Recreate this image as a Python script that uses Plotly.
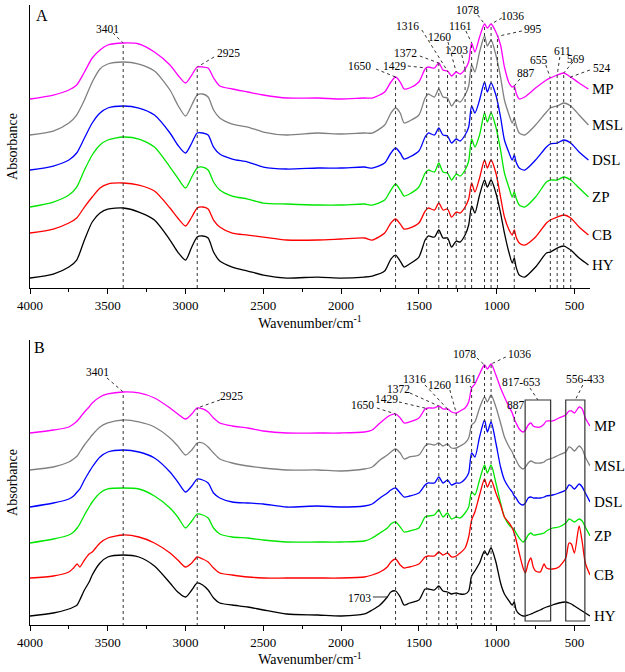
import numpy as np
import plotly.graph_objects as go

SERIF = "Liberation Serif, Times New Roman, serif"

SAMPLES = ["MP", "MSL", "DSL", "ZP", "CB", "HY"]
COLORS = {"MP": "#ff00ff", "MSL": "#808080", "DSL": "#0000ff",
          "ZP": "#00e600", "CB": "#ff0000", "HY": "#000000"}
X_RANGE = [4000, 400]

# ---- panel A: wavenumbers and offset absorbance (a.u.)
WN_A = [4000, 3850, 3750, 3700, 3650, 3600, 3550, 3500, 3401, 3300,
        3200, 3100, 3050, 3000, 2960, 2925, 2890, 2855, 2820, 2780,
        2700, 2600, 2500, 2350, 2150, 2000, 1850, 1800, 1720, 1680,
        1650, 1620, 1595, 1560, 1500, 1460, 1440, 1400, 1372, 1345,
        1316, 1290, 1260, 1235, 1203, 1180, 1161, 1140, 1110, 1078,
        1060, 1036, 1005, 975, 950, 920, 900, 887, 875, 855,
        820, 750, 680, 655, 611, 569, 524, 470, 410]

MP_A = [189, 193, 198, 203, 216, 230, 238, 243, 245, 244,
        236, 223, 213, 205, 213, 221, 221, 220, 210, 202,
        199, 196, 193, 190, 190, 189, 190, 190, 196, 206,
        211, 206, 199, 200, 206, 219, 221, 220, 225, 218,
        217, 212, 216, 214, 219, 226, 245, 236, 251, 264,
        260, 264, 256, 243, 221, 205, 201, 202, 195, 189,
        191, 200, 208, 210, 213, 215, 211, 205, 199]
MSL_A = [153, 157, 165, 173, 188, 206, 219, 224, 226, 224,
         217, 198, 183, 172, 183, 193, 194, 191, 178, 170,
         164, 161, 156, 153, 155, 154, 155, 155, 163, 175,
         180, 175, 165, 167, 173, 190, 194, 191, 199, 191,
         190, 182, 188, 186, 193, 202, 223, 216, 236, 252,
         242, 248, 233, 211, 188, 173, 165, 170, 163, 155,
         153, 163, 176, 180, 182, 185, 182, 173, 163]
DSL_A = [118, 122, 128, 135, 150, 165, 175, 180, 182, 180,
         173, 155, 143, 135, 145, 155, 155, 153, 141, 134,
         129, 126, 121, 119, 120, 120, 121, 120, 125, 135,
         140, 135, 129, 131, 137, 151, 155, 153, 160, 153,
         152, 145, 149, 147, 153, 161, 182, 175, 188, 206,
         196, 205, 193, 171, 148, 135, 128, 133, 126, 120,
         118, 128, 141, 144, 145, 148, 145, 136, 128]
ZP_A = [81, 86, 93, 101, 118, 133, 143, 148, 151, 149,
        141, 121, 110, 100, 111, 120, 121, 118, 106, 98,
        92, 89, 85, 84, 83, 83, 84, 83, 88, 98,
        104, 98, 92, 94, 101, 115, 118, 116, 125, 116,
        115, 108, 114, 112, 118, 127, 149, 141, 153, 175,
        166, 175, 161, 138, 115, 100, 91, 96, 90, 83,
        81, 91, 106, 108, 108, 111, 108, 100, 91]
CB_A = [55, 59, 65, 70, 81, 91, 100, 104, 105, 103,
        97, 80, 70, 62, 71, 80, 81, 79, 68, 61,
        55, 53, 51, 48, 48, 49, 50, 48, 55, 65,
        69, 64, 59, 60, 65, 77, 80, 78, 85, 78,
        79, 71, 76, 75, 81, 89, 105, 96, 110, 128,
        120, 128, 115, 91, 71, 58, 53, 58, 51, 45,
        43, 51, 65, 68, 71, 73, 70, 61, 53]
HY_A = [10, 14, 21, 28, 48, 66, 75, 79, 80, 76,
        68, 48, 36, 28, 41, 51, 52, 50, 36, 27,
        21, 17, 13, 10, 11, 10, 11, 12, 17, 29,
        33, 27, 21, 24, 31, 48, 52, 51, 58, 50,
        50, 41, 47, 46, 53, 63, 82, 75, 93, 108,
        101, 108, 95, 75, 55, 35, 25, 30, 21, 13,
        11, 21, 35, 36, 40, 42, 38, 30, 23]

# ---- panel B
WN_B = [4000, 3850, 3750, 3720, 3697, 3680, 3650, 3620, 3600, 3550,
        3500, 3401, 3300, 3200, 3100, 3050, 3000, 2960, 2925, 2890,
        2855, 2820, 2780, 2700, 2600, 2500, 2350, 2150, 2000, 1850,
        1800, 1750, 1703, 1680, 1650, 1620, 1595, 1560, 1500, 1460,
        1440, 1400, 1372, 1345, 1316, 1290, 1260, 1235, 1203, 1180,
        1161, 1140, 1110, 1078, 1060, 1036, 1005, 975, 950, 920,
        900, 887, 875, 855, 830, 815, 797, 780, 765, 750,
        720, 695, 680, 640, 600, 556, 535, 520, 500, 470,
        450, 430, 400]

MP_B = [193, 196, 199, 202, 205, 208, 214, 219, 223, 229,
        232, 234, 233, 228, 218, 212, 207, 212, 218, 217,
        214, 208, 203, 200, 198, 195, 193, 193, 193, 194,
        196, 203, 209, 211, 212, 208, 203, 204, 208, 217,
        218, 218, 220, 217, 217, 214, 213, 215, 218, 224,
        238, 242, 252, 261, 257, 262, 251, 238, 229, 219,
        213, 207, 203, 197, 194, 196, 201, 203, 200, 199,
        199, 202, 205, 205, 208, 211, 215, 215, 213, 219,
        217, 208, 200]
MSL_B = [156, 159, 164, 167, 170, 174, 181, 187, 191, 199,
         203, 206, 204, 199, 188, 180, 171, 176, 183, 183,
         179, 173, 167, 163, 160, 158, 156, 156, 155, 157,
         159, 166, 171, 174, 177, 173, 167, 169, 171, 180,
         182, 181, 183, 180, 182, 178, 178, 180, 183, 188,
         201, 204, 218, 229, 224, 231, 219, 203, 189, 179,
         174, 169, 166, 160, 157, 159, 163, 165, 164, 163,
         163, 164, 166, 168, 171, 174, 179, 178, 175, 180,
         177, 169, 160]
DSL_B = [119, 123, 127, 130, 134, 137, 146, 154, 159, 169,
         174, 176, 174, 168, 154, 144, 134, 140, 147, 146,
         143, 133, 128, 124, 123, 122, 119, 120, 119, 120,
         122, 128, 133, 136, 138, 133, 129, 130, 133, 141,
         143, 143, 149, 143, 146, 141, 143, 143, 147, 153,
         173, 169, 189, 206, 194, 204, 183, 159, 146, 138,
         134, 130, 128, 123, 121, 123, 128, 129, 128, 128,
         128, 129, 130, 131, 133, 136, 141, 140, 137, 142,
         139, 133, 124]
ZP_B = [83, 87, 91, 94, 98, 102, 111, 119, 124, 133,
        137, 138, 137, 130, 118, 109, 98, 105, 112, 111,
        108, 98, 92, 89, 88, 86, 84, 84, 84, 85,
        88, 93, 98, 102, 104, 99, 94, 95, 98, 109,
        110, 111, 116, 109, 113, 107, 109, 108, 113, 119,
        134, 131, 146, 161, 153, 161, 143, 123, 109, 101,
        98, 96, 93, 88, 84, 86, 91, 93, 91, 91,
        92, 93, 95, 98, 99, 103, 107, 106, 104, 107,
        105, 99, 90]
CB_B = [48, 50, 54, 58, 62, 59, 66, 72, 74, 83,
        88, 91, 89, 83, 73, 66, 59, 63, 69, 67,
        64, 58, 53, 51, 49, 48, 48, 48, 48, 49,
        51, 54, 59, 64, 67, 61, 58, 59, 62, 69,
        70, 70, 74, 71, 73, 69, 70, 73, 78, 89,
        106, 114, 131, 147, 139, 146, 133, 121, 109, 103,
        98, 93, 86, 73, 58, 53, 63, 68, 59, 55,
        54, 62, 58, 57, 59, 68, 83, 82, 73, 100,
        84, 63, 51]
HY_B = [10, 13, 17, 19, 21, 26, 36, 44, 51, 63,
        69, 71, 69, 60, 43, 34, 29, 36, 43, 41,
        36, 28, 23, 21, 19, 16, 12, 11, 10, 12,
        16, 21, 29, 34, 35, 29, 21, 23, 26, 37,
        37, 36, 40, 35, 34, 32, 33, 32, 32, 35,
        50, 55, 63, 75, 71, 78, 64, 43, 32, 25,
        21, 24, 16, 12, 10, 10, 11, 12, 13, 14,
        16, 18, 19, 21, 23, 24, 23, 22, 20, 17,
        15, 13, 10]

SPECTRA_A = dict(zip(SAMPLES, [MP_A, MSL_A, DSL_A, ZP_A, CB_A, HY_A]))
SPECTRA_B = dict(zip(SAMPLES, [MP_B, MSL_B, DSL_B, ZP_B, CB_B, HY_B]))

# peak labels: text, text position (wn, y), leader start (wn, y), marked band
PEAKS_A = [
    ("3401", 3505, 259, 3467, 255, 3401),
    ("2925", 2721, 235, 2817, 231, 2925),
    ("1650", 1879, 222, 1776, 219, 1650),
    ("1429", 1654, 222, 1571, 222, 1450),
    ("1372", 1584, 235, 1494, 232, 1372),
    ("1316", 1571, 262, 1481, 258, 1316),
    ("1260", 1365, 251, 1313, 246, 1260),
    ("1203", 1256, 238, 1224, 233, 1203),
    ("1161", 1230, 262, 1198, 257, 1161),
    ("1078", 1185, 278, 1121, 273, 1078),
    ("1036", 896, 272, 967, 270, 1036),
    ("995", 767, 259, 838, 257, 995),
    ("887", 812, 215, 851, 209, 887),
    ("655", 729, 228, 684, 223, 655),
    ("611", 574, 237, 594, 231, 611),
    ("569", 488, 229, 510, 226, 569),
    ("524", 337, 220, 401, 218, 524),
]
PEAKS_B = [
    ("3401", 3569, 254, 3505, 248, 3401),
    ("2925", 2702, 230, 2779, 226, 2925),
    ("1650", 1860, 221, 1770, 218, 1650),
    ("1429", 1706, 227, 1628, 224, 1450),
    ("1372", 1628, 237, 1558, 233, 1372),
    ("1316", 1526, 247, 1461, 241, 1316),
    ("1260", 1365, 241, 1301, 236, 1260),
    ("1161", 1198, 247, 1172, 240, 1161),
    ("1078", 1204, 272, 1127, 268, 1078),
    ("1036", 851, 272, 941, 269, 1036),
    ("887", 876, 221, 876, 215, 887),
]
BOXES_B = [("817-653", 817, 653, 838, 244, 786, 238),
           ("556-433", 556, 433, 427, 247, 446, 241)]
BOX_Y = [5, 226]
SHOULDER_B = ("1703", 1879, 28, 1796, 29, 1700, 29)

fig = go.Figure()


def peak_label(text, tx, ty, xa, ya):
    # labels that sit past the low-wavenumber end are pinned to the axis end
    if tx < X_RANGE[1]:
        fig.add_annotation(x=X_RANGE[1], y=ty, xref=xa, yref=ya, text=text,
                           showarrow=False, xanchor="left", xshift=1,
                           font=dict(family=SERIF, size=11.5, color="black"))
    else:
        fig.add_annotation(x=tx, y=ty, xref=xa, yref=ya, text=text, showarrow=False,
                           font=dict(family=SERIF, size=11.5, color="black"))


def add_panel(wn, spectra, peaks, xa, ya):
    mp = np.array(spectra["MP"], dtype=float)
    wn_arr = np.array(wn, dtype=float)
    for name in SAMPLES:
        fig.add_trace(go.Scatter(
            x=wn, y=spectra[name], mode="lines", xaxis=xa, yaxis=ya,
            line=dict(color=COLORS[name], width=1.3, shape="spline", smoothing=0.7),
            showlegend=False, hoverinfo="skip"))
    bands = sorted({p[5] for p in peaks})
    for band in bands:
        top = np.interp(band, wn_arr[::-1], mp[::-1])
        fig.add_trace(go.Scatter(
            x=[band, band], y=[0, top], mode="lines", xaxis=xa, yaxis=ya,
            line=dict(color="#333333", width=1, dash="dot"),
            showlegend=False, hoverinfo="skip"))
    for text, tx, ty, lx, ly, band in peaks:
        top = np.interp(band, wn_arr[::-1], mp[::-1])
        fig.add_trace(go.Scatter(
            x=[lx, band], y=[ly, top], mode="lines", xaxis=xa, yaxis=ya,
            line=dict(color="#333333", width=1, dash="dot"),
            showlegend=False, hoverinfo="skip", cliponaxis=False))
        peak_label(text, tx, ty, xa, ya)
    for name in SAMPLES:
        fig.add_annotation(x=wn[-1], y=spectra[name][-1], xref=xa, yref=ya, text=name,
                           showarrow=False, xanchor="left", xshift=2,
                           font=dict(family=SERIF, size=15, color="black"))


add_panel(WN_A, SPECTRA_A, PEAKS_A, "x", "y")
add_panel(WN_B, SPECTRA_B, PEAKS_B, "x2", "y2")

for text, x0, x1, tx, ty, lx, ly in BOXES_B:
    fig.add_shape(type="rect", xref="x2", yref="y2", x0=x0, x1=x1,
                  y0=BOX_Y[0], y1=BOX_Y[1], line=dict(color="#333333", width=1.2))
    fig.add_trace(go.Scatter(
        x=[lx, (x0 + x1) / 2], y=[ly, BOX_Y[1]], mode="lines", xaxis="x2", yaxis="y2",
        line=dict(color="#333333", width=1, dash="dot"), showlegend=False, hoverinfo="skip"))
    peak_label(text, tx, ty, "x2", "y2")

text, tx, ty, lx, ly, ex, ey = SHOULDER_B
fig.add_trace(go.Scatter(x=[lx, ex], y=[ly, ey], mode="lines", xaxis="x2", yaxis="y2",
                         line=dict(color="#333333", width=1), showlegend=False,
                         hoverinfo="skip"))
peak_label(text, tx, ty, "x2", "y2")

fig.add_annotation(x=3923, y=273, xref="x", yref="y", text="A", showarrow=False,
                   font=dict(family=SERIF, size=16, color="black"))
fig.add_annotation(x=3942, y=278, xref="x2", yref="y2", text="B", showarrow=False,
                   font=dict(family=SERIF, size=16, color="black"))

xaxis_style = dict(
    range=X_RANGE, showline=True, linecolor="black", linewidth=1,
    showgrid=False, zeroline=False, ticks="outside", ticklen=5, tickcolor="black",
    tick0=0, dtick=500, automargin=False,
    minor=dict(ticks="outside", ticklen=3, dtick=250, tickcolor="black", showgrid=False),
    tickfont=dict(family=SERIF, size=13, color="black"),
    title=dict(text="Wavenumber/cm<sup>-1</sup>", standoff=4,
               font=dict(family=SERIF, size=14, color="black")),
)
yaxis_style = dict(
    showline=True, linecolor="black", linewidth=1, showgrid=False, zeroline=False,
    showticklabels=False, ticks="", automargin=False,
    title=dict(text="Absorbance", standoff=8, font=dict(family=SERIF, size=14, color="black")),
)

fig.update_layout(
    width=625, height=672,
    margin=dict(l=30, r=35, t=5, b=47),
    paper_bgcolor="white", plot_bgcolor="white",
    xaxis=dict(domain=[0, 1], anchor="y", **xaxis_style),
    yaxis=dict(domain=[0.5435, 1.0], anchor="x", range=[0, 283], **yaxis_style),
    xaxis2=dict(domain=[0, 1], anchor="y2", **xaxis_style),
    yaxis2=dict(domain=[0, 0.4597], anchor="x2", range=[1, 286], **yaxis_style),
)

# the page's default body margin would push the 625x672 figure off the window
fig.write_html("out.html", config={"displayModeBar": False},
               post_script="document.body.style.margin = '0';")
